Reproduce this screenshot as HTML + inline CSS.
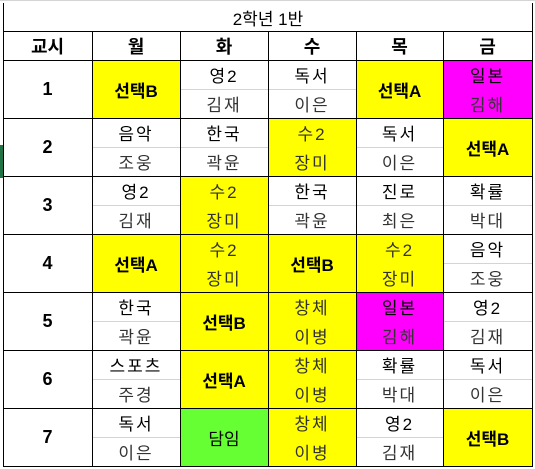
<!DOCTYPE html>
<html><head><meta charset="utf-8"><style>
body{margin:0;width:535px;height:469px;background:#fff;position:relative;overflow:hidden;font-family:"Liberation Sans","Noto Sans CJK KR",sans-serif;}
.c{position:absolute;box-sizing:border-box;display:flex;align-items:center;justify-content:center;font-size:17px;color:#000;}
.b{font-weight:bold;}
.hl{position:absolute;height:1px;background:#d4d4d4;}
.bl{position:absolute;background:#000;}
</style></head><body>
<div class="bl" style="left:0;top:0;width:535px;height:1px;background:#d4d4d4"></div>
<div class="c" style="left:3px;top:3px;width:530px;height:28px;font-size:17px">2학년 1반</div>
<div class="bl" style="left:0;top:145px;width:3px;height:33px;background:#217346"></div>
<div id="g"></div>
<script>
const days=["교시","월","화","수","목","금"];
const rows=[
[["선택B","Y"],["영2","김재"],["독서","이은"],["선택A","Y"],["일본","김해","M"]],
[["음악","조웅"],["한국","곽윤"],["수2","장미","Y"],["독서","이은"],["선택A","Y"]],
[["영2","김재"],["수2","장미","Y"],["한국","곽윤"],["진로","최은"],["확률","박대"]],
[["선택A","Y"],["수2","장미","Y"],["선택B","Y"],["수2","장미","Y"],["음악","조웅"]],
[["한국","곽윤"],["선택B","Y"],["창체","이병","Y"],["일본","김해","M"],["영2","김재"]],
[["스포츠","주경"],["선택A","Y"],["창체","이병","Y"],["확률","박대"],["독서","이은"]],
[["독서","이은"],["담임","G"],["창체","이병","Y"],["영2","김재"],["선택B","Y"]]];
const xs=[3,92,180,268,356,443,532];
const colors={Y:"#ffff00",M:"#ff00ff",G:"#66ff33"};
const g=document.getElementById('g');
function el(cls,st,txt,name,inter){const d=document.createElement('div');d.className=cls;d.style.cssText=st;if(txt)d.textContent=txt;


g.appendChild(d);return d;}
days.forEach((t,i)=>{el('c b',`left:${xs[i]}px;top:31px;width:${xs[i+1]-xs[i]}px;height:29px;font-size:18px`,t,'header-'+i,false);});
rows.forEach((r,ri)=>{
 const y=60+ri*58;
 el('c b',`left:3px;top:${y}px;width:89px;height:58px;font-size:18px`,String(ri+1),'period-'+(ri+1),false);
 r.forEach((c,ci)=>{
  const x=xs[ci+1],w=xs[ci+2]-x;
  const last=c[c.length-1];const col=colors[last];
  const n=col?c.length-1:c.length;
  if(col){el('c',`left:${x}px;top:${y}px;width:${w}px;height:58px;background:${col}`,'','cell-bg-'+(ri+1)+'-'+(ci+1),true);}
  if(n===1){el('c'+(last==='G'?'':' b'),`left:${x}px;top:${y}px;width:${w}px;height:58px`,c[0],'cell-'+(ri+1)+'-'+(ci+1),true);}
  else{
   if(!col)el('hl',`left:${x}px;top:${y+29}px;width:${w}px`,'','half-divider',false);
   el('c',`left:${x}px;top:${y}px;width:${w}px;height:29px;letter-spacing:2px;color:${col==='#ffff00'?'#333':'#000'}`,c[0],'subject-'+(ri+1)+'-'+(ci+1),true);
   el('c',`left:${x}px;top:${y+29}px;width:${w}px;height:29px;letter-spacing:2px;color:#333`,c[1],'teacher-'+(ri+1)+'-'+(ci+1),true);
  }
 });
});
xs.forEach((x,i)=>{el('bl',`left:${x}px;top:${i==0||i==6?3:31}px;width:1px;height:${i==0||i==6?463:435}px`,'','vline',false);});
[31,60,118,176,234,292,350,408,466].forEach(y=>{el('bl',`left:3px;top:${y}px;width:530px;height:1px`,'','hline',false);});
</script>
</body></html>
